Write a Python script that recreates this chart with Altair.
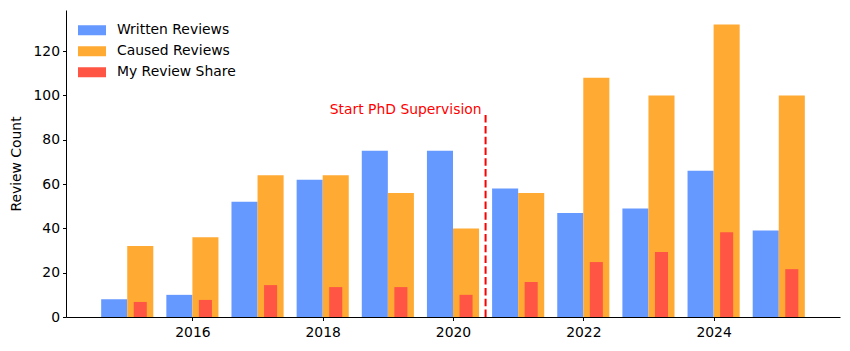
import altair as alt
import pandas as pd

years = [2015, 2016, 2017, 2018, 2019, 2020, 2021, 2022, 2023, 2024, 2025]
written = [8, 10, 52, 62, 75, 75, 58, 47, 49, 66, 39]
caused = [32, 36, 64, 64, 56, 40, 56, 108, 100, 132, 100]
share = [6.8, 7.7, 14.4, 13.5, 13.5, 10, 15.8, 24.8, 29.3, 38.3, 21.6]
series_names = ["Written Reviews", "Caused Reviews", "My Review Share"]
series_colors = ["#6699FF", "#FFAA33", "#FF5544"]

phd_year = 2020.5
phd_label = "Start PhD Supervision"
phd_top = 92

offsets = {"Written Reviews": (-0.4, 0.0), "Caused Reviews": (0.0, 0.4), "My Review Share": (0.1, 0.3)}
rows = []
for name, vals in zip(series_names, [written, caused, share]):
    for y, v in zip(years, vals):
        a, b = offsets[name]
        rows.append({"year": y, "x0": y + a, "x1": y + b, "value": v, "series": name})
df = pd.DataFrame(rows)

font = "DejaVu Sans"
fs = 13.9
xscale = alt.Scale(domain=[2014.06, 2025.94], nice=False, zero=False)
yscale = alt.Scale(domain=[0, 138.6], nice=False)

bars = alt.Chart(df).mark_bar(cornerRadius=0).encode(
    x=alt.X("x0:Q", scale=xscale,
            axis=alt.Axis(values=[2016, 2018, 2020, 2022, 2024], format="d", title=None,
                          labelPadding=5)),
    x2="x1:Q",
    y=alt.Y("value:Q", scale=yscale,
            axis=alt.Axis(values=[0, 20, 40, 60, 80, 100, 120], title="Review Count")),
    y2=alt.datum(0),
    color=alt.Color("series:N",
                    scale=alt.Scale(domain=series_names, range=series_colors),
                    legend=alt.Legend(title=None, orient="none", legendX=12, legendY=11,
                                      symbolType="M-1,-0.36L1,-0.36L1,0.36L-1,0.36Z",
                                      symbolSize=784, symbolOpacity=1, symbolStrokeWidth=0,
                                      clipHeight=18.5, rowPadding=2, labelOffset=11,
                                      labelFont=font, labelFontSize=fs, labelColor="#000",
                                      padding=0)),
)

ann = pd.DataFrame({"x": [phd_year], "y0": [0], "y1": [phd_top], "label": [phd_label]})
rule = alt.Chart(ann).mark_rule(color="#FF0000", strokeWidth=2, strokeDash=[7.5, 3.3]).encode(
    x=alt.X("x:Q", scale=xscale), y=alt.Y("y0:Q", scale=yscale), y2="y1:Q")
text = alt.Chart(ann).mark_text(color="#FF0000", align="right", baseline="alphabetic",
                                dx=-4, dy=1, font=font, fontSize=fs).encode(
    x=alt.X("x:Q", scale=xscale), y=alt.Y("y1:Q", scale=yscale), text="label:N")

chart = alt.layer(bars, rule, text).properties(
    width=774, height=307,
    autosize=alt.AutoSizeParams(type="none"),
    padding={"left": 66, "top": 10, "right": 10, "bottom": 34},
    background="white",
).configure_view(stroke=None).configure_axis(
    grid=False, domainColor="#000", tickColor="#000", labelColor="#000",
    labelFont=font, labelFontSize=fs, titleFont=font, titleFontSize=fs,
    titleFontWeight="normal", titleColor="#000", tickSize=3.5, labelPadding=3,
    domainWidth=1, tickWidth=1,
).configure_axisY(titlePadding=9)

chart.save("out.html", embed_options={"renderer": "svg", "actions": False})
